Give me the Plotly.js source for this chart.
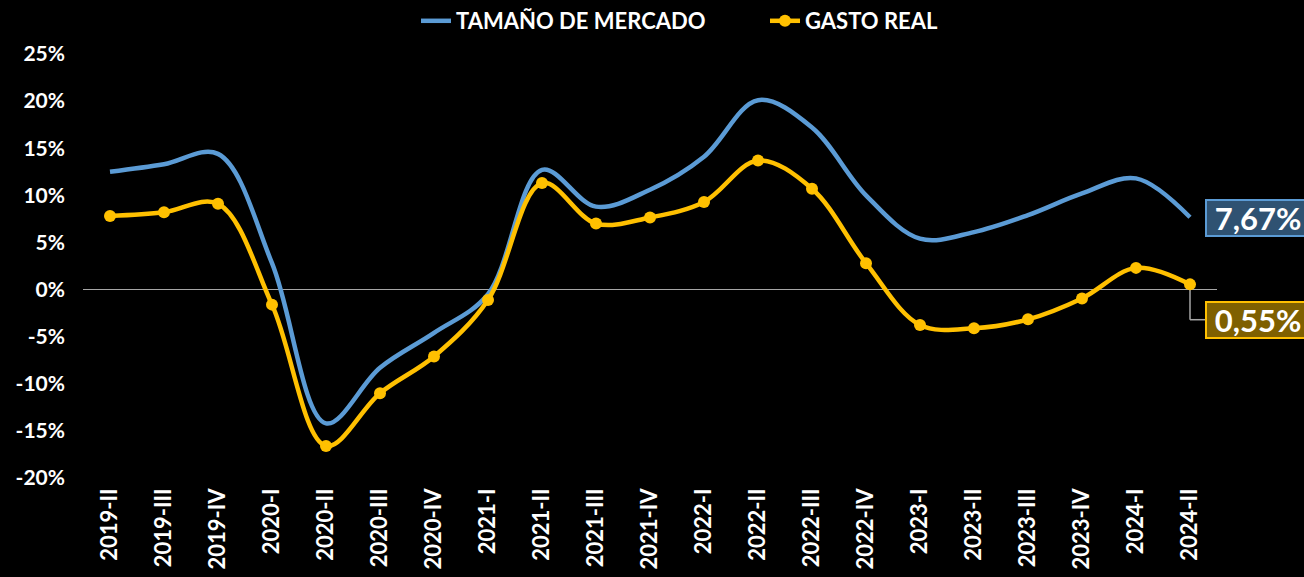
<!DOCTYPE html>
<html>
<head>
<meta charset="utf-8">
<script src="https://cdn.plot.ly/plotly-3.0.1.min.js"></script>
<style>
html,body{margin:0;padding:0;background:#000;}
#chart{width:1304px;height:577px;}
</style>
</head>
<body>
<div id="chart"></div>
<script>
const categories = ["2019-II","2019-III","2019-IV","2020-I","2020-II","2020-III","2020-IV","2021-I","2021-II","2021-III","2021-IV","2022-I","2022-II","2022-III","2022-IV","2023-I","2023-II","2023-III","2023-IV","2024-I","2024-II"];
const tamanoMercado = [12.5,13.3,14.4,2.8,-14.2,-8.3,-4.6,-0.5,12.7,8.8,10.6,14.1,20.1,17.2,10.0,5.4,6.1,7.9,10.2,11.8,7.67];
const gastoReal = [7.8,8.2,9.1,-1.6,-16.6,-11.0,-7.1,-1.1,11.3,7.0,7.65,9.3,13.7,10.7,2.8,-3.76,-4.1,-3.16,-0.94,2.3,0.55];
const yTicks = [-20,-15,-10,-5,0,5,10,15,20,25];
const lastLabelBlue = "7,67%";
const lastLabelGold = "0,55%";

const lastIdx = categories.length - 1;
const goldBoxY = -3.2;
const FONT = "Lato, 'Open Sans', sans-serif";

const traces = [
  {
    x: categories, y: tamanoMercado, name: "TAMAÑO DE MERCADO",
    type: "scatter", mode: "lines",
    line: {color: "#5B9BD5", width: 4.5, shape: "spline", smoothing: 1},
    hoverinfo: "skip"
  },
  {
    x: categories, y: gastoReal, name: "GASTO REAL",
    type: "scatter", mode: "lines+markers",
    line: {color: "#FFC000", width: 4.5, shape: "spline", smoothing: 1},
    marker: {color: "#FFC000", size: 12},
    hoverinfo: "skip"
  }
];

const layout = {
  width: 1304, height: 577,
  paper_bgcolor: "#000", plot_bgcolor: "#000",
  margin: {l: 83, r: 87, t: 54, b: 99},
  showlegend: true,
  legend: {
    orientation: "h", xref: "container", yref: "container",
    x: 416/1304, xanchor: "left", y: 1.0, yanchor: "top",
    font: {family: FONT, size: 22, color: "#fff", weight: "bold"},
    entrywidth: 304, entrywidthmode: "pixels",
    bgcolor: "rgba(0,0,0,0)"
  },
  xaxis: {
    type: "category", range: [-0.5, lastIdx + 0.5],
    showgrid: false, zeroline: false, showline: false, ticks: "",
    tickangle: -90,
    tickfont: {family: FONT, size: 22, color: "#fff", weight: "bold"},
    ticklabelstandoff: 5
  },
  yaxis: {
    range: [-20, 25], tickvals: yTicks, ticktext: yTicks.map(v => v + "%"),
    showgrid: false, zeroline: true, zerolinecolor: "#A6A6A6", zerolinewidth: 1.5,
    showline: false, ticks: "",
    tickfont: {family: FONT, size: 21, color: "#fff", weight: "bold"},
    ticklabelstandoff: 17
  },
  shapes: [
    {type: "line", xref: "x", yref: "y", x0: lastIdx, x1: lastIdx, y0: gastoReal[lastIdx], y1: goldBoxY,
     line: {color: "#A6A6A6", width: 1.5}, layer: "below"},
    {type: "line", xref: "x", yref: "y", xsizemode: "pixel", xanchor: lastIdx, x0: 0, x1: 16, y0: goldBoxY, y1: goldBoxY,
     line: {color: "#A6A6A6", width: 1.5}, layer: "below"}
  ],
  annotations: [
    {x: lastIdx, y: tamanoMercado[lastIdx] - 0.1, xref: "x", yref: "y", text: lastLabelBlue, showarrow: false,
     xanchor: "left", yanchor: "middle", xshift: 15, width: 100, height: 32, align: "center", valign: "middle",
     font: {family: FONT, size: 31, color: "#fff", weight: "bold"},
     bgcolor: "#2F5272", bordercolor: "#5B9BD5", borderwidth: 2, borderpad: 1},
    {x: lastIdx, y: goldBoxY, xref: "x", yref: "y", text: lastLabelGold, showarrow: false,
     xanchor: "left", yanchor: "middle", xshift: 15, width: 100, height: 32, align: "center", valign: "middle",
     font: {family: FONT, size: 31, color: "#fff", weight: "bold"},
     bgcolor: "#7F6000", bordercolor: "#FFC000", borderwidth: 2, borderpad: 1}
  ]
};

Plotly.newPlot("chart", traces, layout, {displayModeBar: false, staticPlot: true});
</script>
</body>
</html>
